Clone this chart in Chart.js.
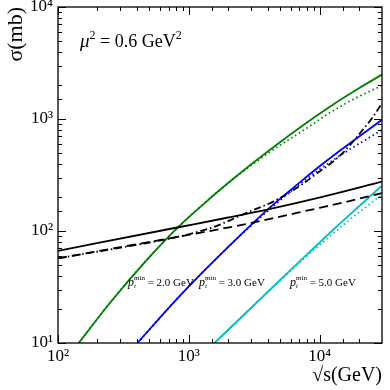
<!DOCTYPE html>
<html>
<head>
<meta charset="utf-8">
<script src="https://cdn.jsdelivr.net/npm/chart.js@4.4.0/dist/chart.umd.min.js"></script>
<style>
  html, body { margin: 0; padding: 0; background: #fff; }
</style>
</head>
<body>
<canvas id="sigmaChart" width="390" height="390"></canvas>
<script>
// sqrt(s) in GeV, sigma in mb
const greenS = [144, 250, 480, 834, 1500, 2210, 4250, 8000, 12300, 20000, 30000];
const greenSolid = [10, 22.9, 55.6, 109, 202, 296, 540, 931, 1316, 1884, 2490];
const greenDotted = [10, 22.9, 55.6, 109, 202, 294, 515, 830, 1160, 1590, 1990];

const blueS = [405, 790, 1306, 2350, 4120, 7450, 10000, 13860, 30000];
const blueSolid = [10, 23.9, 44, 86.5, 160, 286, 378, 507, 984];
const blueDotted = [10, 23.9, 44, 86.5, 155, 275, 355, 460, 800];

const cyanS = [1570, 2510, 3370, 7230, 12300, 14700, 30000];
const cyanSolid = [10, 16.9, 23.5, 55.2, 99, 120, 254];
const cyanDotted = [10, 16.9, 23.5, 54, 92, 110, 211];

const totalS = [100, 834, 2000, 4120, 10300, 30000];
const totalSigma = [66.5, 108, 132, 157, 201, 276];

const dashedS = [100, 834, 2500, 10000, 14700, 30000];
const dashedSigma = [57, 89, 113, 161, 178, 218];

const dashDotS = [100, 834, 1233, 1600, 2985, 4380, 7620, 9730, 12300, 14700, 17500, 20900, 25000, 30000];
const dashDotSigma = [57, 89, 100, 110, 151, 182, 269, 333, 405, 485, 605, 775, 1005, 1380];

const xTickValues = [100, 1000, 10000];
const xTickLabels = ['10²', '10³', '10⁴'];
const yTickValues = [10, 100, 1000, 10000];
const yTickLabels = ['10¹', '10²', '10³', '10⁴'];

const ptLabels = ['2.0', '3.0', '5.0'];

const SERIF = "'Liberation Serif', 'DejaVu Serif', serif";

function pts(xs, ys) {
    return xs.map((x, i) => ({ x: x, y: ys[i] }));
}

function series(xs, ys, color, dash) {
    return {
        data: pts(xs, ys),
        borderColor: color,
        borderWidth: 1.8,
        borderDash: dash || [],
        pointRadius: 0,
        fill: false,
        cubicInterpolationMode: 'monotone'
    };
}

const GREEN = '#008000';
const BLUE = '#0000ff';
const CYAN = '#00bfbf';
const DOTS = [1.5, 3];

function isMajor(v) {
    const l = Math.log10(v);
    return Math.abs(l - Math.round(l)) < 1e-6;
}

// box around the plot with inward ticks on all four sides
const frameTicks = {
    id: 'frameTicks',
    afterDraw(chart) {
        const { ctx, chartArea: a, scales } = chart;
        ctx.save();
        ctx.strokeStyle = '#000';
        ctx.lineWidth = 1.3;
        ctx.strokeRect(a.left, a.top, a.right - a.left, a.bottom - a.top);
        ctx.lineWidth = 1;
        ctx.beginPath();
        scales.x.ticks.forEach(t => {
            const px = Math.round(scales.x.getPixelForValue(t.value)) + 0.5;
            if (px < a.left || px > a.right) return;
            const len = isMajor(t.value) ? 8 : 4;
            ctx.moveTo(px, a.bottom); ctx.lineTo(px, a.bottom - len);
            ctx.moveTo(px, a.top); ctx.lineTo(px, a.top + len);
        });
        scales.y.ticks.forEach(t => {
            const py = Math.round(scales.y.getPixelForValue(t.value)) + 0.5;
            if (py < a.top - 1 || py > a.bottom + 1) return;
            const len = isMajor(t.value) ? 8 : 4;
            ctx.moveTo(a.left, py); ctx.lineTo(a.left + len, py);
            ctx.moveTo(a.right, py); ctx.lineTo(a.right - len, py);
        });
        ctx.stroke();
        ctx.restore();
    }
};

function drawParts(ctx, x, y, parts) {
    parts.forEach(p => {
        ctx.font = p.font;
        ctx.fillText(p.t, x, y + (p.dy || 0));
        x += ctx.measureText(p.t).width + (p.gap || 0);
    });
}

const annotations = {
    id: 'annotations',
    afterDatasetsDraw(chart) {
        const ctx = chart.ctx;
        ctx.save();
        ctx.fillStyle = '#000';
        ctx.textBaseline = 'alphabetic';
        drawParts(ctx, 80, 47, [
            { t: 'μ', font: 'italic 19px ' + SERIF },
            { t: '2', font: '12px ' + SERIF, dy: -8 },
            { t: ' = 0.6 GeV', font: '18px ' + SERIF },
            { t: '2', font: '12px ' + SERIF, dy: -8 }
        ]);
        const xs = [128, 199, 290];
        ptLabels.forEach((v, i) => {
            const x0 = xs[i], y0 = 286;
            ctx.font = 'italic 12px ' + SERIF;
            ctx.fillText('p', x0, y0);
            const w = ctx.measureText('p').width;
            ctx.font = 'italic 7px ' + SERIF;
            ctx.fillText('t', x0 + w, y0 + 2);
            ctx.font = '7px ' + SERIF;
            ctx.fillText('min', x0 + w, y0 - 6);
            const wm = ctx.measureText('min').width;
            ctx.font = '11px ' + SERIF;
            ctx.fillText(' = ' + v + ' GeV', x0 + w + wm, y0);
        });
        ctx.restore();
    }
};

new Chart(document.getElementById('sigmaChart'), {
    type: 'line',
    data: {
        datasets: [
            series(totalS, totalSigma, '#000'),
            series(dashedS, dashedSigma, '#000', [9, 5]),
            series(dashDotS, dashDotSigma, '#000', [7, 3, 1.5, 3]),
            series(greenS, greenDotted, GREEN, DOTS),
            series(greenS, greenSolid, GREEN),
            series(blueS, blueDotted, BLUE, DOTS),
            series(blueS, blueSolid, BLUE),
            series(cyanS, cyanDotted, CYAN, DOTS),
            series(cyanS, cyanSolid, CYAN)
        ]
    },
    options: {
        responsive: false,
        animation: false,
        layout: { padding: { top: 7, right: 8, left: 0, bottom: 0 } },
        plugins: { legend: { display: false }, tooltip: { enabled: false } },
        scales: {
            x: {
                type: 'logarithmic',
                min: 100,
                max: 30000,
                grid: { display: false, drawTicks: false },
                border: { display: false },
                afterFit: s => { s.height = 47; s.paddingLeft = 0; s.paddingRight = 0; },
                ticks: {
                    autoSkip: false,
                    maxRotation: 0,
                    padding: 3,
                    color: '#000',
                    font: { family: SERIF, size: 17 },
                    callback: v => {
                        const i = xTickValues.indexOf(v);
                        return i >= 0 ? xTickLabels[i] : '';
                    }
                },
                title: {
                    display: true,
                    text: '√s(GeV)',
                    align: 'end',
                    color: '#000',
                    font: { family: SERIF, size: 20 },
                    padding: { top: 0, bottom: 2 }
                }
            },
            y: {
                type: 'logarithmic',
                min: 10,
                max: 10000,
                grid: { display: false, drawTicks: false },
                border: { display: false },
                afterFit: s => { s.width = 58; s.paddingTop = 0; s.paddingBottom = 0; },
                ticks: {
                    autoSkip: false,
                    padding: 5,
                    color: '#000',
                    font: { family: SERIF, size: 17 },
                    callback: v => {
                        const i = yTickValues.indexOf(v);
                        return i >= 0 ? yTickLabels[i] : '';
                    }
                },
                title: {
                    display: true,
                    text: 'σ(mb)',
                    align: 'end',
                    color: '#000',
                    font: { family: SERIF, size: 22 },
                    padding: { top: 3, bottom: 0 }
                }
            }
        }
    },
    plugins: [frameTicks, annotations]
});
</script>
</body>
</html>
